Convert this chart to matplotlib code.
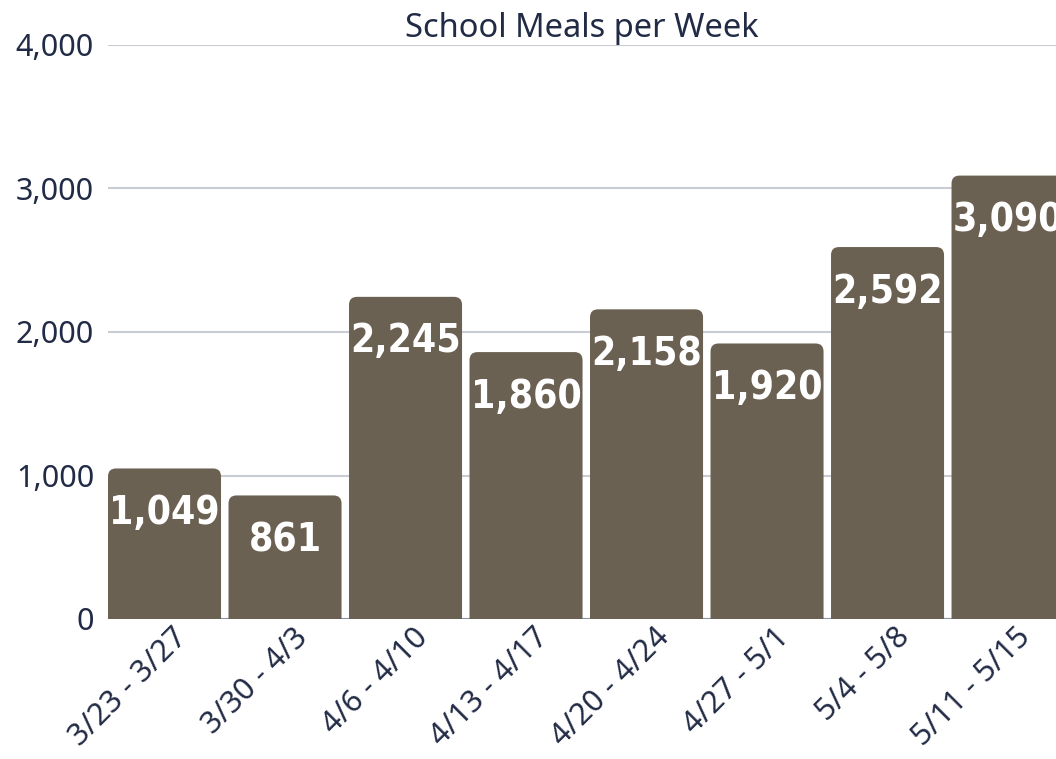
import numpy as np
import matplotlib.pyplot as plt
from matplotlib.patches import FancyBboxPatch
from matplotlib.transforms import ScaledTranslation

weeks = ["3/23 - 3/27", "3/30 - 4/3", "4/6 - 4/10", "4/13 - 4/17",
         "4/20 - 4/24", "4/27 - 5/1", "5/4 - 5/8", "5/11 - 5/15"]
meals = [1049, 861, 2245, 1860, 2158, 1920, 2592, 3090]
yticks = [0, 1000, 2000, 3000, 4000]

barColor = "#6b6152"
textColor = "#222b45"
gridColor = "#c9ccd2"
labelFont = ["Noto Sans", "DejaVu Sans"]

fig = plt.figure(figsize=(10.56, 7.59), dpi=100)
ax = fig.add_axes([108/1056, 140/759, 1 - 108/1056, (619-45)/759])

x = np.arange(len(weeks))
bars = ax.bar(x, meals, width=0.938, color=barColor, zorder=3)

ax.set_xlim(-0.469, 7.398)
ax.set_ylim(0, 4000)

# swap the plain bars for ones with rounded tops
pxX = (1056 - 108) / (7.398 + 0.469)
pxY = (619 - 45) / 4000
for b in bars:
    bx, bw, bh = b.get_x(), b.get_width(), b.get_height()
    r = 8 / pxX
    p = FancyBboxPatch((bx, -200), bw, bh + 200,
                       boxstyle="round,pad=0,rounding_size=%f" % r,
                       mutation_aspect=pxX / pxY,
                       facecolor=barColor, edgecolor="none", zorder=3)
    ax.add_patch(p)
    b.remove()

for xi, v in zip(x, meals):
    ax.annotate("{:,}".format(v), (xi, v), xytext=(0, -40), textcoords="offset points",
                ha="center", va="baseline", color="white", fontsize=28,
                fontweight="bold", fontstretch="condensed", family="DejaVu Sans", zorder=4)

ax.set_yticks(yticks)
ax.set_yticklabels(["{:,}".format(t) for t in yticks])
ax.grid(axis="y", color=gridColor, linewidth=1.5, zorder=0)
ax.axhline(0, color="#8a93a5", linewidth=1.5, zorder=2)

ax.set_xticks(x)
ax.set_xticklabels(weeks, rotation=45, ha="right", va="center", rotation_mode="anchor")

ax.tick_params(axis="both", length=0, labelsize=22, labelcolor=textColor)
ax.tick_params(axis="y", pad=10)
for lbl in ax.get_xticklabels() + ax.get_yticklabels():
    lbl.set_family(labelFont)
# nudge the rotated labels so they end right of the bar centre
for lbl in ax.get_xticklabels():
    lbl.set_transform(lbl.get_transform() + ScaledTranslation(0.18, -0.09, fig.dpi_scale_trans))

for s in ax.spines.values():
    s.set_visible(False)

ax.set_title("School Meals per Week", fontsize=23.5, color=textColor, family=labelFont, pad=6)

fig.savefig("out.png", dpi=100)
